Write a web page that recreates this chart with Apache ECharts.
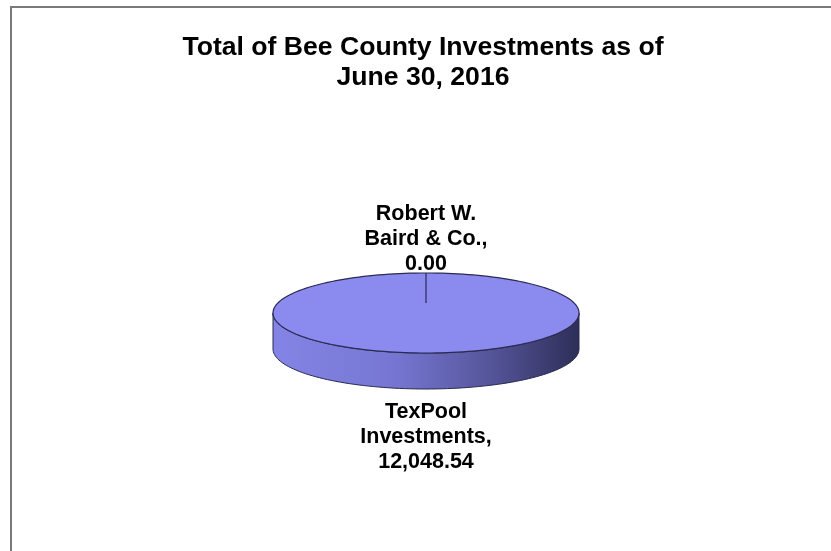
<!DOCTYPE html>
<html><head><meta charset="utf-8">
<script src="https://cdn.jsdelivr.net/npm/echarts/dist/echarts.min.js"></script>
<style>html,body{margin:0;padding:0;background:#fff}#c{width:831px;height:551px}</style>
</head><body><div id="c"></div>
<script>
// ---- data ----
const titleLines = ['Total of Bee County Investments as of', 'June 30, 2016'];
const categories = ['Robert W.\nBaird & Co.', 'TexPool\nInvestments'];
const values = [0.00, 12048.54];

// ---- layout / style ----
const FONT = 'Liberation Sans, Arial, sans-serif';
const PIE = { cx: 426, cy: 313, rx: 153, ry: 40, depth: 36, hubLift: 10 };
const total = values.reduce((a, b) => a + b, 0);
const fmt = v => v.toLocaleString('en-US', { minimumFractionDigits: 2, maximumFractionDigits: 2 });

function pt(t, dy) {
  return [PIE.cx + PIE.rx * Math.sin(t), PIE.cy - PIE.ry * Math.cos(t) + (dy || 0)];
}
function arc(a, b, dy) {
  const n = Math.max(1, Math.ceil((b - a) / (Math.PI / 90)));
  const out = [];
  for (let k = 0; k <= n; k++) out.push(pt(a + (b - a) * k / n, dy));
  return out;
}

function renderItem(params, api) {
  const i = params.dataIndex;
  const v = api.value(1);
  let before = 0;
  for (let k = 0; k < i; k++) before += values[k];
  const a0 = before / total * 2 * Math.PI;
  const a1 = (before + v) / total * 2 * Math.PI;
  const children = [];
  const stroke = '#2a2a52';

  // side (front half only)
  const s = Math.max(a0, Math.PI / 2), e = Math.min(a1, 3 * Math.PI / 2);
  if (e > s) {
    const top = arc(s, e, 0);
    const bot = arc(s, e, PIE.depth).reverse();
    children.push({
      type: 'polygon', z2: 1,
      shape: { points: top.concat(bot) },
      style: {
        fill: new echarts.graphic.LinearGradient(0, 0, 1, 0, [
          { offset: 0, color: '#8484e6' },
          { offset: 0.4, color: '#7676d2' },
          { offset: 0.7, color: '#56569c' },
          { offset: 1, color: '#2e2e58' }
        ]),
        stroke: stroke, lineWidth: 1
      }
    });
  }
  // top face
  const hub = [PIE.cx, PIE.cy - PIE.hubLift];
  children.push({
    type: 'polygon', z2: 2,
    shape: { points: [hub].concat(arc(a0, a1, 0)) },
    style: { fill: '#8a8aef', stroke: stroke, lineWidth: 1.2 }
  });
  // label
  const m = (a0 + a1) / 2;
  const above = Math.cos(m) >= 0;
  const lx = PIE.cx + (PIE.rx + 2) * Math.sin(m);
  const ly = above ? PIE.cy - PIE.ry * Math.cos(m) + 4
                   : PIE.cy - PIE.ry * Math.cos(m) + PIE.depth + 11;
  children.push({
    type: 'text', z2: 3,
    x: lx, y: ly,
    style: {
      text: categories[i] + ',\n' + fmt(v),
      fontFamily: FONT, fontSize: 21.5, fontWeight: 'bold', lineHeight: 25,
      fill: '#000',
      align: Math.abs(Math.sin(m)) < 0.3 ? 'center' : (Math.sin(m) > 0 ? 'left' : 'right'),
      verticalAlign: above ? 'bottom' : 'top'
    }
  });
  return { type: 'group', children: children };
}

const chart = echarts.init(document.getElementById('c'), null, { renderer: 'canvas' });
chart.setOption({
  backgroundColor: '#ffffff',
  animation: false,
  graphic: [
    { type: 'rect', shape: { x: 11, y: 7, width: 900, height: 700 },
      style: { fill: 'none', stroke: '#7a7a7a', lineWidth: 2 } },
    { type: 'text', x: 423, y: 33,
      style: { text: titleLines.join('\n'), fontFamily: FONT, fontSize: 26.6, fontWeight: 'bold',
               lineHeight: 30, fill: '#000', align: 'center', verticalAlign: 'top' } }
  ],
  series: [{
    type: 'custom',
    coordinateSystem: 'none',
    renderItem: renderItem,
    data: values.map((v, i) => ({ name: categories[i], value: [i, v] }))
  }]
});
</script>
</body></html>
